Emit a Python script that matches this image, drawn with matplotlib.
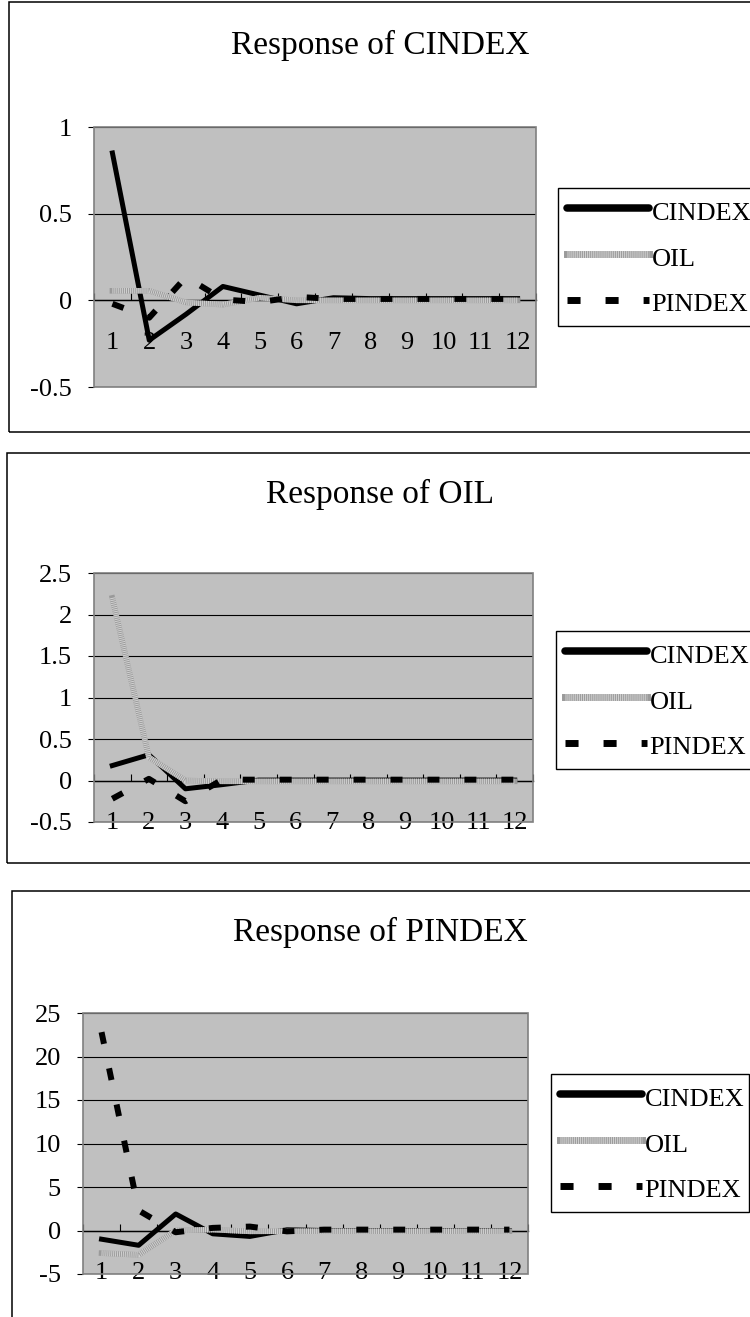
import numpy as np
import matplotlib.pyplot as plt
from matplotlib.lines import Line2D
from matplotlib.patches import Rectangle

plt.rcParams['font.family'] = ['Liberation Serif', 'DejaVu Serif']
plt.rcParams['axes.unicode_minus'] = False
plt.rcParams['lines.scale_dashes'] = False

periods = list(range(1, 13))
series_names = ['CINDEX', 'OIL', 'PINDEX']

# Response of CINDEX
cindex_to_cindex = [0.85, -0.23, -0.08, 0.08, 0.03, -0.02, 0.015, 0.01, 0.01, 0.01, 0.01, 0.01]
cindex_to_oil = [0.055, 0.055, -0.012, -0.025, 0.015, 0.0, 0.0, 0.0, 0.0, 0.0, 0.0, 0.0]
cindex_to_pindex = [-0.02, -0.10, 0.135, 0.005, -0.01, 0.02, 0.008, 0.008, 0.008, 0.008, 0.008, 0.008]

# Response of OIL
oil_to_cindex = [0.18, 0.31, -0.10, -0.05, 0.005, 0.005, 0.005, 0.005, 0.005, 0.005, 0.005, 0.005]
oil_to_oil = [2.20, 0.28, 0.0, -0.01, -0.01, -0.01, -0.01, -0.01, -0.01, -0.01, -0.01, -0.01]
oil_to_pindex = [-0.22, 0.02, -0.25, 0.01, 0.01, 0.01, 0.01, 0.01, 0.01, 0.01, 0.01, 0.01]

# Response of PINDEX
pindex_to_cindex = [-1.0, -1.7, 1.9, -0.38, -0.68, 0.08, 0.0, 0.0, 0.0, 0.0, 0.0, 0.0]
pindex_to_oil = [-2.6, -2.8, 0.0, 0.1, -0.1, -0.08, -0.08, -0.08, -0.08, -0.08, -0.08, -0.08]
pindex_to_pindex = [22.8, 2.3, -0.2, 0.3, 0.45, -0.1, 0.1, 0.1, 0.1, 0.1, 0.1, 0.1]

W, H = 750, 1317
fig = plt.figure(figsize=(W / 100, H / 100), dpi=100)


def px_rect(left, top, right, bottom):   # pixel box -> figure fractions
    return [left / W, 1 - bottom / H, (right - left) / W, (bottom - top) / H]


def draw_panel(plot_box, frame_box, title, title_y, ylim, ystep, data, legend_box):
    # outer chart frame
    fx = px_rect(*frame_box)
    fig.add_artist(Rectangle((fx[0], fx[1]), fx[2], fx[3], transform=fig.transFigure,
                             fill=False, edgecolor='black', lw=1.1))
    fig.text(380 / W, 1 - title_y / H, title, ha='center', va='center', fontsize=24)

    ax = fig.add_axes(px_rect(*plot_box))
    ax.set_facecolor('#c0c0c0')

    c, o, p = data
    ax.plot(periods, c, color='black', lw=3.6, zorder=3)
    ax.plot(periods, o, color='#9a9a9a', lw=4, zorder=3)
    ax.plot(periods, o, color='#d2d2d2', lw=4, dashes=(0.7, 0.7), zorder=3)
    ax.plot(periods, p, color='black', lw=4.3, dashes=(8.6, 18), dash_capstyle='butt', zorder=3)

    ax.set_ylim(ylim)
    ax.set_yticks(np.arange(ylim[0], ylim[1] + ystep / 2, ystep))
    ax.yaxis.set_major_formatter(lambda v, pos: '{:g}'.format(round(v, 2)))
    ax.grid(axis='y', color='black', lw=0.8)
    ax.set_axisbelow(True)
    ax.tick_params(axis='y', direction='out', length=4, color='black', pad=12, labelsize=19)

    ax.set_xlim(0.5, 12.5)
    ax.set_xticks(np.arange(0.5, 13, 1))
    ax.set_xticks(periods, minor=True)
    ax.set_xticklabels([str(i) for i in periods], minor=True)
    ax.tick_params(axis='x', which='major', direction='in', length=5, color='black', labelbottom=False)
    ax.tick_params(axis='x', which='minor', length=0, pad=23, labelsize=19)

    for s in ['top', 'right', 'left']:
        ax.spines[s].set_visible(False)
    ax.spines['bottom'].set_position(('data', 0))
    ax.spines['bottom'].set_color('black')
    ax.spines['bottom'].set_linewidth(1)
    ax.add_patch(Rectangle((0, 0), 1, 1, transform=ax.transAxes, fill=False,
                           edgecolor='#808080', lw=1.2, zorder=5, clip_on=False))

    h_c = Line2D([], [], color='black', lw=5.4, solid_capstyle='round')
    h_o = (Line2D([], [], color='#9a9a9a', lw=5),
           Line2D([], [], color='#d2d2d2', lw=5, dashes=(0.7, 0.7)))
    h_p = Line2D([], [], color='black', lw=5, dashes=(9.4, 18), dash_capstyle='butt')
    lx, ly, lw_ = legend_box
    leg = ax.legend([h_c, h_o, h_p], series_names, loc='upper left', mode='expand',
                    bbox_to_anchor=(lx / W, 1 - ly / H, lw_ / W, 0), bbox_transform=fig.transFigure,
                    borderaxespad=0, frameon=True, fancybox=False, edgecolor='black', framealpha=1,
                    fontsize=19, handlelength=3.1, handleheight=1.2, handletextpad=0.1,
                    borderpad=0.35, labelspacing=0.7)
    leg.get_frame().set_linewidth(1)
    return ax


draw_panel((94, 127, 536, 387), (9, 2, 760, 432), 'Response of CINDEX', 45,
           (-0.5, 1), 0.5, (cindex_to_cindex, cindex_to_oil, cindex_to_pindex), (558, 188, 205))
draw_panel((94, 573, 533, 822), (7, 453, 760, 863), 'Response of OIL', 494,
           (-0.5, 2.5), 0.5, (oil_to_cindex, oil_to_oil, oil_to_pindex), (556, 631, 205))
draw_panel((83, 1013, 528, 1274), (12, 891, 760, 1330), 'Response of PINDEX', 932,
           (-5, 25), 5, (pindex_to_cindex, pindex_to_oil, pindex_to_pindex), (551, 1074, 198))

fig.savefig('out.png', dpi=100)
